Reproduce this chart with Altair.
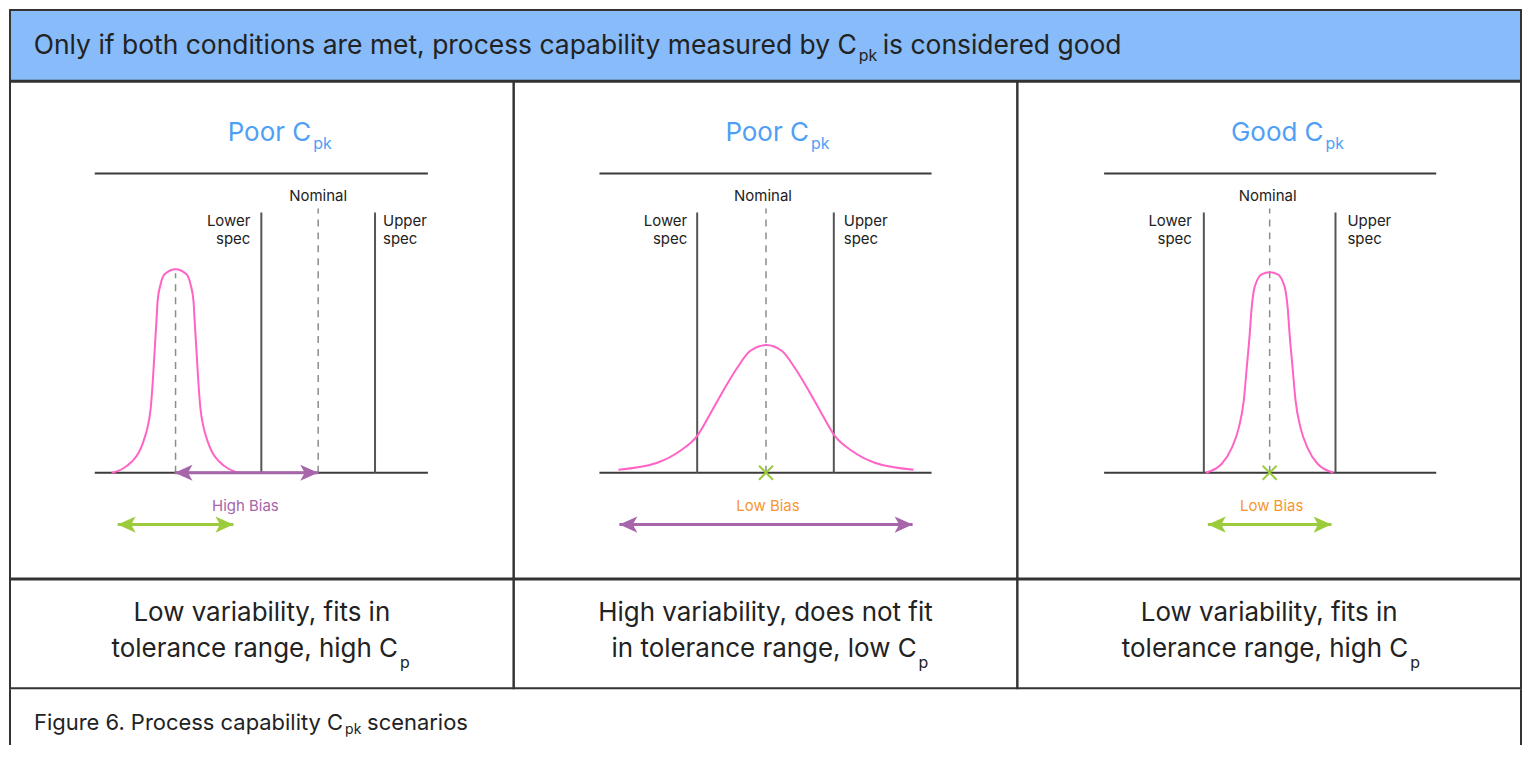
import altair as alt
import pandas as pd

FONT = "Inter"
INK = "#222222"
BORDER = "#333333"
AXIS_INK = "#3b3b3b"
SPEC_INK = "#555555"
DASH_INK = "#8c8c8c"
HEADER_FILL = "#87BBF9"
TITLE_BLUE = "#4FA0F5"
PINK = "#FF63C5"
PURPLE = "#A765AA"
GREEN = "#9CCB3C"
ORANGE = "#F7962F"

TOTAL_W = 1515
PANEL_W = 505
HEADER_H = 71
PANEL_H = 498
TEXT_H = 109
CAPTION_H = 56

# ---------------- text content ----------------
HEADER_MAIN = "Only if both conditions are met, process capability measured by C"
HEADER_SUB = "pk"
HEADER_TAIL = "is considered good"
PANEL_TITLES = ["Poor C", "Poor C", "Good C"]
TITLE_SUB = "pk"
DESC_LINE1 = ["Low variability, fits in", "High variability, does not fit", "Low variability, fits in"]
DESC_LINE2 = ["tolerance range, high C", "in tolerance range, low C", "tolerance range, high C"]
DESC_SUB = "p"
CAPTION_MAIN = "Figure 6. Process capability C"
CAPTION_SUB = "pk"
CAPTION_TAIL = "scenarios"

# ---------------- diagram values (measurement position, height above baseline) ----------------
LOWER_SPEC = [252, 184, 187]
NOMINAL = [309, 253, 253]
UPPER_SPEC = [366, 321, 319]
AXIS_START = [85, 86, 87]
AXIS_END = [419, 419, 420]
TOP_RULE = 300
SPEC_TOP = 261
NOMINAL_TOP = 265
MEAN_LINE_X = [166, None, None]
MEAN_LINE_TOP = 200

CURVE_1_X = [102, 113, 122, 129, 134, 138, 141, 143, 145, 147, 148, 151, 155, 166,
             177, 181, 184, 185, 187, 189, 191, 194, 198, 203, 210, 219, 230]
CURVE_1_Y = [0, 4, 11, 20, 32, 46, 64, 89, 122, 155, 172, 189, 199, 204,
             199, 189, 172, 155, 122, 89, 64, 46, 32, 20, 11, 4, 0]
CURVE_2_X = [105, 144, 167, 184, 197, 210, 224, 237, 253, 269, 282, 296, 309, 322, 339, 362, 401]
CURVE_2_Y = [3, 10, 22, 37, 59, 82, 105, 122, 128, 122, 105, 82, 59, 37, 22, 10, 3]
CURVE_3_X = [189, 205, 215, 222, 227, 230, 233, 235, 237, 240, 245, 253,
             261, 266, 269, 271, 273, 276, 279, 284, 291, 301, 317]
CURVE_3_Y = [0, 9, 25, 45, 72, 105, 139, 166, 182, 192, 199, 201,
             199, 192, 182, 166, 139, 105, 72, 45, 25, 9, 0]
CURVES_X = [CURVE_1_X, CURVE_2_X, CURVE_3_X]
CURVES_Y = [CURVE_1_Y, CURVE_2_Y, CURVE_3_Y]

# arrows: start, end, level, quality
ARROW_START = [[165, 108], [106], [191]]
ARROW_END = [[309, 224], [400], [315]]
ARROW_LEVEL = [[0, -52], [-52], [-52]]
ARROW_QUALITY = [["bad", "good"], ["bad"], ["good"]]

BIAS_LABEL = ["High Bias", "Low Bias", "Low Bias"]
BIAS_X = [236, 255, 255]
BIAS_Y = -33
CENTER_MARK_X = [None, 253, 253]

LOWER_LABEL_X = [241, 174, 175]
UPPER_LABEL_X = [374, 331, 331]
NOMINAL_LABEL_X = [309, 250, 251]
TITLE_C_END = [302, 296, 307]
DESC_C_END = [389, 404, 392]

LEFT_HEAD = "M0,0 L2,-0.9 L1.5,0 L2,0.9 Z"
RIGHT_HEAD = "M0,0 L-2,-0.9 L-1.5,0 L-2,0.9 Z"
X_SHAPE = "M-1,-1 L1,1 M-1,1 L1,-1"

xs = alt.Scale(domain=[0, PANEL_W], nice=False, zero=False)
ys = alt.Scale(domain=[-106, 392], nice=False, zero=False)
qual_scale = alt.Scale(domain=["good", "bad"], range=[GREEN, PURPLE])
bias_scale = alt.Scale(domain=["High Bias", "Low Bias"], range=[PURPLE, ORANGE])


def X(field):
    return alt.X(field, type="quantitative", scale=xs, axis=None)


def Y(field):
    return alt.Y(field, type="quantitative", scale=ys, axis=None)


def one(text):
    return pd.DataFrame({"t": [text]})


def panel(i):
    layers = []
    hr = pd.DataFrame({"x": [AXIS_START[i], AXIS_START[i]], "x2": [AXIS_END[i], AXIS_END[i]], "y": [TOP_RULE, 0]})
    layers.append(alt.Chart(hr).mark_rule(color=AXIS_INK, strokeWidth=2).encode(x=X("x"), x2="x2", y=Y("y")))

    specs = pd.DataFrame({"x": [LOWER_SPEC[i], UPPER_SPEC[i]], "y": [0, 0], "y2": [SPEC_TOP, SPEC_TOP]})
    layers.append(alt.Chart(specs).mark_rule(color=SPEC_INK, strokeWidth=2).encode(x=X("x"), y=Y("y"), y2="y2"))

    dx = [NOMINAL[i]]
    dtop = [NOMINAL_TOP]
    if MEAN_LINE_X[i] is not None:
        dx.append(MEAN_LINE_X[i])
        dtop.append(MEAN_LINE_TOP)
    dashed = pd.DataFrame({"x": dx, "y": [0] * len(dx), "y2": dtop})
    layers.append(alt.Chart(dashed).mark_rule(color=DASH_INK, strokeWidth=1.5, strokeDash=[7, 6]).encode(
        x=X("x"), y=Y("y"), y2="y2"))

    curve = pd.DataFrame({"x": CURVES_X[i], "y": CURVES_Y[i]})
    layers.append(alt.Chart(curve).mark_line(color=PINK, strokeWidth=2, interpolate="monotone").encode(
        x=X("x"), y=Y("y"), order="x:Q"))

    arr = pd.DataFrame({"x1": ARROW_START[i], "x2": ARROW_END[i], "y": ARROW_LEVEL[i], "q": ARROW_QUALITY[i]})
    col = alt.Color("q:N", scale=qual_scale, legend=None)
    layers.append(alt.Chart(arr).mark_rule(strokeWidth=3).encode(x=X("x1"), x2="x2", y=Y("y"), color=col))
    layers.append(alt.Chart(arr).mark_point(shape=LEFT_HEAD, filled=True, size=324, opacity=1).encode(
        x=X("x1"), y=Y("y"), color=col))
    layers.append(alt.Chart(arr).mark_point(shape=RIGHT_HEAD, filled=True, size=324, opacity=1).encode(
        x=X("x2"), y=Y("y"), color=col))

    if CENTER_MARK_X[i] is not None:
        cm = pd.DataFrame({"x": [CENTER_MARK_X[i]], "y": [0]})
        layers.append(alt.Chart(cm).mark_point(shape=X_SHAPE, filled=False, size=196, strokeWidth=2,
                                               color=GREEN, opacity=1).encode(x=X("x"), y=Y("y")))

    bl = pd.DataFrame({"t": [BIAS_LABEL[i]], "x": [BIAS_X[i]], "y": [BIAS_Y]})
    layers.append(alt.Chart(bl).mark_text(font=FONT, fontSize=15, align="center", baseline="middle").encode(
        x=X("x"), y=Y("y"), text="t:N",
        color=alt.Color("t:N", scale=bias_scale, legend=None)))

    sl = pd.DataFrame({"t": ["Lower", "spec"], "x": [LOWER_LABEL_X[i]] * 2, "y": [252, 234]})
    layers.append(alt.Chart(sl).mark_text(font=FONT, fontSize=15, align="right", baseline="middle", color=INK).encode(
        x=X("x"), y=Y("y"), text="t:N"))
    su = pd.DataFrame({"t": ["Upper", "spec"], "x": [UPPER_LABEL_X[i]] * 2, "y": [252, 234]})
    layers.append(alt.Chart(su).mark_text(font=FONT, fontSize=15, align="left", baseline="middle", color=INK).encode(
        x=X("x"), y=Y("y"), text="t:N"))
    nl = pd.DataFrame({"t": ["Nominal"], "x": [NOMINAL_LABEL_X[i]], "y": [277]})
    layers.append(alt.Chart(nl).mark_text(font=FONT, fontSize=15, align="center", baseline="middle", color=INK).encode(
        x=X("x"), y=Y("y"), text="t:N"))

    layers.append(alt.Chart(one(PANEL_TITLES[i])).mark_text(
        font=FONT, fontSize=26, align="right", baseline="alphabetic", color=TITLE_BLUE).encode(
        x=alt.value(TITLE_C_END[i]), y=alt.value(59), text="t:N"))
    layers.append(alt.Chart(one(TITLE_SUB)).mark_text(
        font=FONT, fontSize=16, align="left", baseline="alphabetic", color=TITLE_BLUE).encode(
        x=alt.value(TITLE_C_END[i] + 2), y=alt.value(67), text="t:N"))

    return alt.layer(*layers).resolve_scale(color="independent").properties(width=PANEL_W, height=PANEL_H)


def desc(i):
    l1 = alt.Chart(one(DESC_LINE1[i])).mark_text(font=FONT, fontSize=26, align="center", baseline="middle",
                                                 color=INK).encode(
        x=alt.value(PANEL_W / 2), y=alt.value(34), text="t:N")
    l2 = alt.Chart(one(DESC_LINE2[i])).mark_text(font=FONT, fontSize=26, align="right", baseline="middle",
                                                 color=INK).encode(
        x=alt.value(DESC_C_END[i]), y=alt.value(70), text="t:N")
    sub = alt.Chart(one(DESC_SUB)).mark_text(font=FONT, fontSize=16, align="left", baseline="middle",
                                             color=INK).encode(
        x=alt.value(DESC_C_END[i] + 2), y=alt.value(84), text="t:N")
    return alt.layer(l1, l2, sub).properties(width=PANEL_W, height=TEXT_H)


header = alt.layer(
    alt.Chart(one(HEADER_MAIN)).mark_text(font=FONT, fontSize=26.5, align="right", baseline="alphabetic",
                                          color=INK).encode(x=alt.value(849), y=alt.value(44), text="t:N"),
    alt.Chart(one(HEADER_SUB)).mark_text(font=FONT, fontSize=16, align="left", baseline="alphabetic",
                                         color=INK).encode(x=alt.value(851), y=alt.value(51), text="t:N"),
    alt.Chart(one(HEADER_TAIL)).mark_text(font=FONT, fontSize=26.5, align="left", baseline="alphabetic",
                                          color=INK).encode(x=alt.value(875), y=alt.value(44), text="t:N"),
).properties(width=TOTAL_W, height=HEADER_H, view=alt.ViewBackground(fill=HEADER_FILL))

caption = alt.layer(
    alt.Chart(one(CAPTION_MAIN)).mark_text(font=FONT, fontSize=22, align="right", baseline="middle",
                                           color=INK).encode(x=alt.value(334), y=alt.value(34), text="t:N"),
    alt.Chart(one(CAPTION_SUB)).mark_text(font=FONT, fontSize=14, align="left", baseline="middle",
                                          color=INK).encode(x=alt.value(336), y=alt.value(41), text="t:N"),
    alt.Chart(one(CAPTION_TAIL)).mark_text(font=FONT, fontSize=22, align="left", baseline="middle",
                                           color=INK).encode(x=alt.value(358), y=alt.value(34), text="t:N"),
    alt.Chart(one("")).mark_rule(color=BORDER, strokeWidth=2).encode(
        x=alt.value(0), y=alt.value(0), y2=alt.value(CAPTION_H)),
    alt.Chart(one("")).mark_rule(color=BORDER, strokeWidth=2).encode(
        x=alt.value(TOTAL_W), y=alt.value(0), y2=alt.value(CAPTION_H)),
).properties(width=TOTAL_W, height=CAPTION_H, view=alt.ViewBackground(stroke="transparent"))

chart = alt.vconcat(
    header,
    alt.hconcat(panel(0), panel(1), panel(2), spacing=0, bounds="flush"),
    alt.hconcat(desc(0), desc(1), desc(2), spacing=0, bounds="flush"),
    caption,
    spacing=-2,
).properties(padding=0).configure_view(stroke=BORDER, strokeWidth=2).configure_text(font=FONT)

chart.save("out.html", embed_options={"renderer": "svg", "actions": False})
